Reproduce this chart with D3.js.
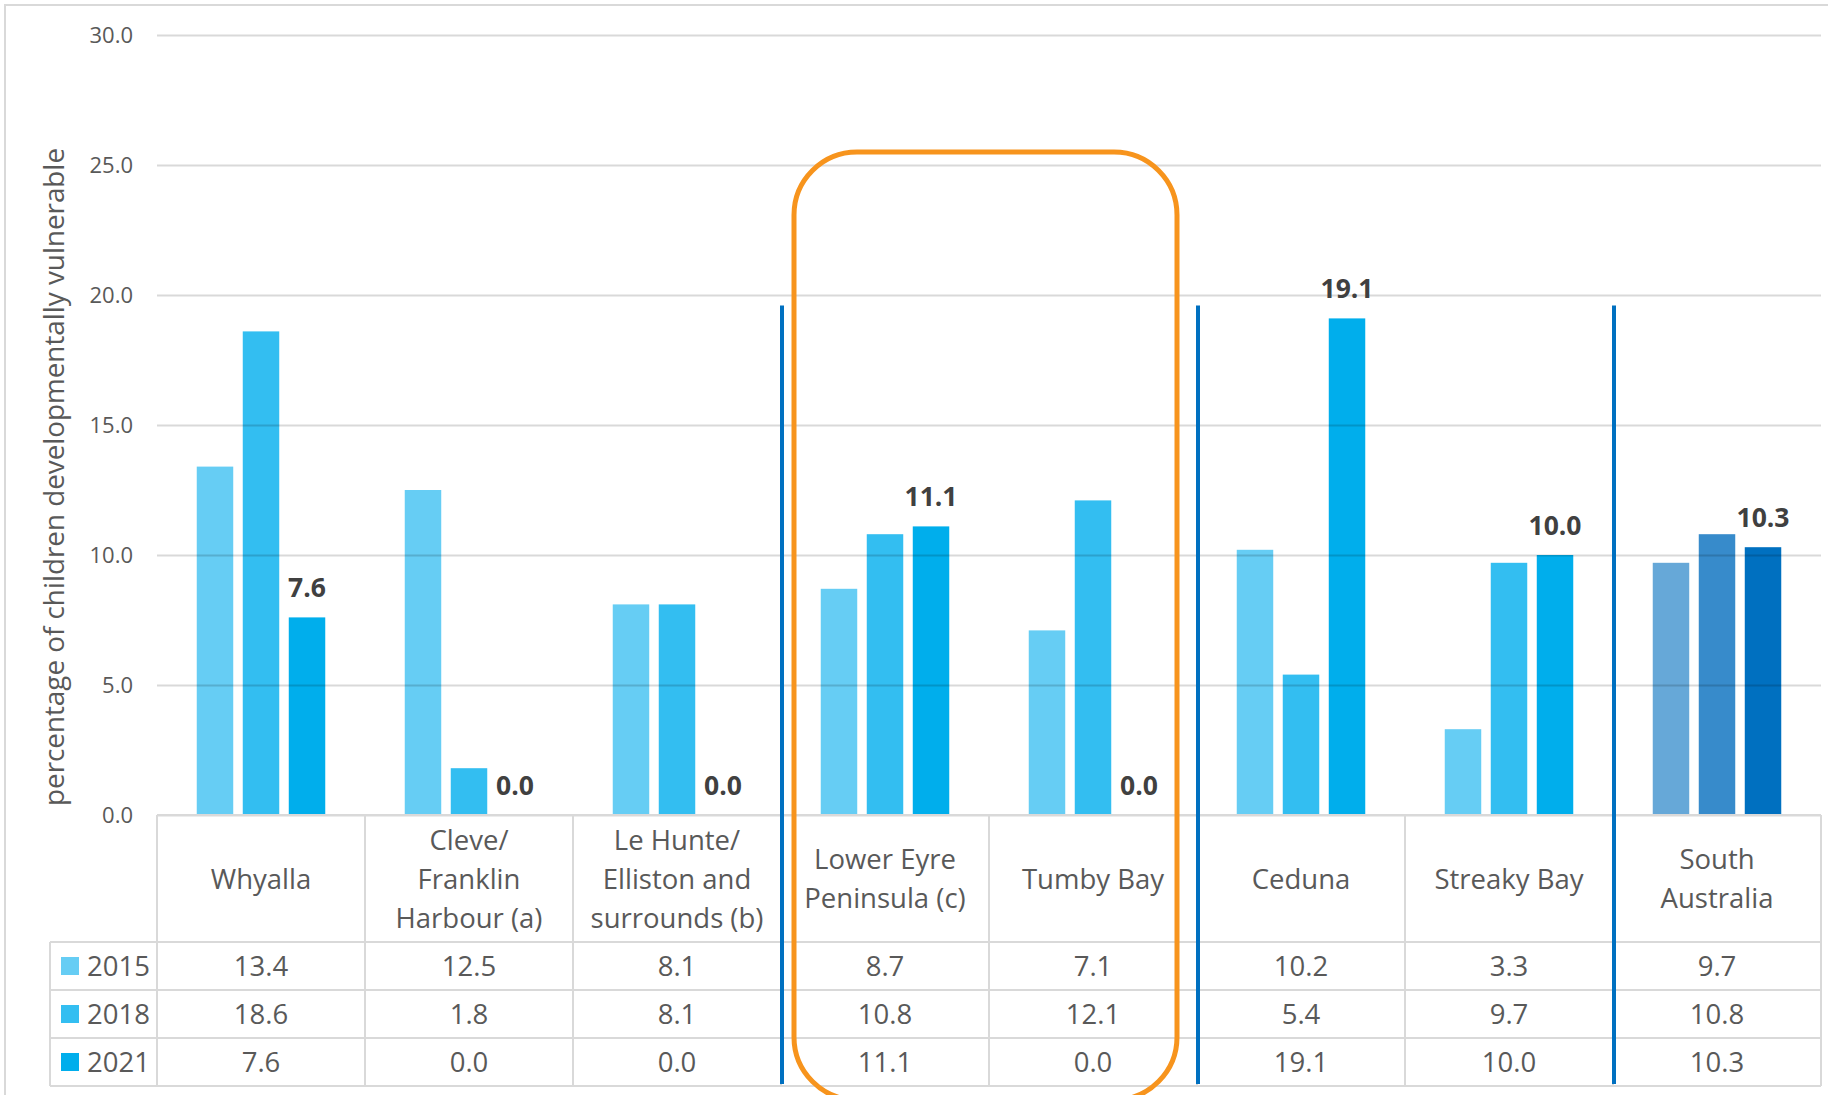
<!DOCTYPE html>
<html>
<head>
<meta charset="utf-8">
<script src="https://cdn.jsdelivr.net/npm/d3@7"></script>
<style>
  html, body { margin: 0; padding: 0; background: #fff; }
  svg { display: block; font-family: "Open Sans", sans-serif; }
</style>
</head>
<body>
<svg id="chart" width="1828" height="1095"></svg>
<script>
// ---- data ----
const categories = ["Whyalla", "Cleve/ Franklin Harbour (a)", "Le Hunte/ Elliston and surrounds (b)",
  "Lower Eyre Peninsula (c)", "Tumby Bay", "Ceduna", "Streaky Bay", "South Australia"];
const categoryLines = [
  ["Whyalla"],
  ["Cleve/", "Franklin", "Harbour (a)"],
  ["Le Hunte/", "Elliston and", "surrounds (b)"],
  ["Lower Eyre", "Peninsula (c)"],
  ["Tumby Bay"],
  ["Ceduna"],
  ["Streaky Bay"],
  ["South", "Australia"]
];
const years = ["2015", "2018", "2021"];
const values2015 = [13.4, 12.5, 8.1, 8.7, 7.1, 10.2, 3.3, 9.7];
const values2018 = [18.6, 1.8, 8.1, 10.8, 12.1, 5.4, 9.7, 10.8];
const values2021 = [7.6, 0.0, 0.0, 11.1, 0.0, 19.1, 10.0, 10.3];
const yTicks = [0, 5, 10, 15, 20, 25, 30];
const seriesColors = ["#66CDF4", "#33BEF1", "#00AEEC"];
const stateColors = ["#66A8D8", "#378BCB", "#0070C0"];
const stateCategory = "South Australia";
const highlighted = ["Lower Eyre Peninsula (c)", "Tumby Bay"];
const separatorsBefore = ["Lower Eyre Peninsula (c)", "Ceduna", "South Australia"];
const yTitle = "percentage of children developmentally vulnerable";

const seriesValues = [values2015, values2018, values2021];

// ---- layout ----
const W = 1828, H = 1095;
const plotLeft = 157, plotRight = 1821, plotTop = 35, plotBottom = 815;
const headerH = 127, rowH = 48, legendLeft = 50;
const gridColor = "#d9d9d9", textColor = "#595959", labelColor = "#404040";
const tableFont = 27.5;

const svg = d3.select("#chart");

// outer chart border
svg.append("rect").attr("x", 5).attr("y", 5).attr("width", W + 20).attr("height", H + 20)
  .attr("fill", "#fff").attr("stroke", gridColor).attr("stroke-width", 2);

const x = d3.scaleBand().domain(categories).range([plotLeft, plotRight]).paddingInner(0).paddingOuter(0);
const y = d3.scaleLinear().domain([0, 30]).range([plotBottom, plotTop]);
const xInner = d3.scaleBand().domain(years).range([0, x.bandwidth()]).paddingInner(0.207).paddingOuter(0.864);

// bars
const barData = [];
categories.forEach((c, ci) => {
  years.forEach((yr, si) => {
    barData.push({ c, yr, si, v: seriesValues[si][ci] });
  });
});
svg.append("g").selectAll("rect").data(barData).join("rect")
  .attr("x", d => x(d.c) + xInner(d.yr))
  .attr("width", xInner.bandwidth())
  .attr("y", d => y(d.v))
  .attr("height", d => y(0) - y(d.v))
  .attr("fill", d => (d.c === stateCategory ? stateColors : seriesColors)[d.si]);

// gridlines (drawn over bars, translucent)
const yAxis = d3.axisLeft(y).tickValues(yTicks).tickFormat(d3.format(".1f"))
  .tickSize(-(plotRight - plotLeft)).tickPadding(24);
const gAxis = svg.append("g").attr("transform", `translate(${plotLeft},0)`).call(yAxis);
gAxis.select(".domain").remove();
gAxis.selectAll(".tick line").attr("stroke", "rgba(0,0,0,0.15)").attr("stroke-width", 2);
gAxis.selectAll(".tick text").attr("fill", textColor).attr("font-size", 22)
  .attr("font-family", "'Open Sans', sans-serif");

// y axis title
svg.append("text")
  .attr("transform", `translate(64,477) rotate(-90)`)
  .attr("text-anchor", "middle").attr("fill", textColor).attr("font-size", 27.8)
  .text(yTitle);

// data labels for 2021
svg.append("g").selectAll("text").data(barData.filter(d => d.yr === "2021")).join("text")
  .attr("x", d => x(d.c) + xInner(d.yr) + xInner.bandwidth() / 2)
  .attr("y", d => y(d.v) - 20)
  .attr("text-anchor", "middle").attr("font-weight", "bold").attr("font-size", 26.5)
  .attr("fill", labelColor).text(d => d3.format(".1f")(d.v));

// ---- data table ----
const tableTop = plotBottom;
const rowsTop = tableTop + headerH;
const tableBottom = rowsTop + rowH * years.length;
const tg = svg.append("g");

// horizontal lines
tg.append("line").attr("x1", plotLeft).attr("x2", plotRight).attr("y1", tableTop).attr("y2", tableTop)
  .attr("stroke", gridColor).attr("stroke-width", 2);
d3.range(years.length + 1).forEach(i => {
  tg.append("line").attr("x1", legendLeft).attr("x2", plotRight)
    .attr("y1", rowsTop + i * rowH).attr("y2", rowsTop + i * rowH)
    .attr("stroke", gridColor).attr("stroke-width", 2);
});
// vertical lines
tg.append("line").attr("x1", legendLeft).attr("x2", legendLeft).attr("y1", rowsTop).attr("y2", tableBottom)
  .attr("stroke", gridColor).attr("stroke-width", 2);
categories.concat(["__end"]).forEach((c) => {
  const xx = c === "__end" ? plotRight : x(c);
  tg.append("line").attr("x1", xx).attr("x2", xx).attr("y1", tableTop).attr("y2", tableBottom)
    .attr("stroke", gridColor).attr("stroke-width", 2);
});

// category header text
const headerMid = tableTop + headerH / 2;
const lineGap = 39;
categories.forEach((c, ci) => {
  const lines = categoryLines[ci];
  const t = tg.append("text").attr("text-anchor", "middle").attr("fill", textColor).attr("font-size", tableFont);
  lines.forEach((ln, li) => {
    t.append("tspan").attr("x", x(c) + x.bandwidth() / 2)
      .attr("y", headerMid + (li - (lines.length - 1) / 2) * lineGap + 10)
      .text(ln);
  });
});

// rows: legend + values
years.forEach((yr, si) => {
  const cy = rowsTop + si * rowH + rowH / 2;
  tg.append("rect").attr("x", 61).attr("y", cy - 9).attr("width", 18).attr("height", 18)
    .attr("fill", seriesColors[si]);
  tg.append("text").attr("x", 87).attr("y", cy + 10).attr("fill", textColor).attr("font-size", tableFont).text(yr);
  categories.forEach((c, ci) => {
    tg.append("text").attr("x", x(c) + x.bandwidth() / 2).attr("y", cy + 10)
      .attr("text-anchor", "middle").attr("fill", textColor).attr("font-size", tableFont)
      .text(d3.format(".1f")(seriesValues[si][ci]));
  });
});

// blue separators
separatorsBefore.forEach(c => {
  svg.append("line").attr("x1", x(c) + 1).attr("x2", x(c) + 1)
    .attr("y1", y(19.6)).attr("y2", tableBottom - 2)
    .attr("stroke", "#0070C0").attr("stroke-width", 4);
});

// orange highlight box
const hx0 = x(highlighted[0]) + 13;
const hx1 = x(highlighted[highlighted.length - 1]) + x.bandwidth() - 20;
svg.append("rect").attr("x", hx0).attr("y", y(25) - 13)
  .attr("width", hx1 - hx0).attr("height", 1100 - (y(25) - 13))
  .attr("rx", 63).attr("ry", 63)
  .attr("fill", "none").attr("stroke", "#F7941D").attr("stroke-width", 5);
</script>
</body>
</html>
